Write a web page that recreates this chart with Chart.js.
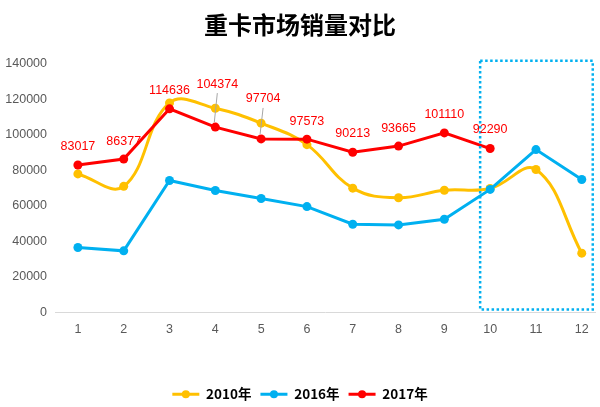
<!DOCTYPE html>
<html>
<head>
<meta charset="utf-8">
<script src="https://cdn.jsdelivr.net/npm/chart.js@4/dist/chart.umd.min.js"></script>
<style>
  html, body { margin: 0; padding: 0; background: #fff; }
  #wrap { width: 600px; height: 407px; }
</style>
</head>
<body>
<div id="wrap"><canvas id="c" width="600" height="407"></canvas></div>
<script>
// data
var months = [1, 2, 3, 4, 5, 6, 7, 8, 9, 10, 11, 12];
var sales2010 = [78000, 71000, 118000, 115000, 106600, 94500, 70000, 64600, 68800, 69800, 80500, 33400];
var sales2016 = [36600, 34700, 74300, 68700, 64200, 59600, 49700, 49300, 52500, 69300, 91700, 74900];
var sales2017 = [83017, 86377, 114636, 104374, 97704, 97573, 90213, 93665, 101110, 92290];
var yTicks = [0, 20000, 40000, 60000, 80000, 100000, 120000, 140000];

var YEL = '#FFC000', BLU = '#00B0F0', RED = '#FF0000', GREY = '#595959';
// how far above each red point its label sits (px); 4 and 5 have leader lines
var labelLift = [18, 18, 18, 43, 40, 18, 19, 18, 18, 19];

function pts(arr) { return arr.map(function(v, i) { return { x: months[i], y: v }; }); }

function ds(label, arr, color, order, tension) {
  return { label: label, data: pts(arr), borderColor: color, backgroundColor: color, pointBackgroundColor: color,
    pointBorderWidth: 0, borderWidth: 3, pointRadius: 4.5, pointHoverRadius: 4.5, tension: tension, order: order };
}

var extras = {
  id: 'extras',
  afterDatasetsDraw: function(chart) {
    var ctx = chart.ctx, x = chart.scales.x, a = chart.chartArea;
    ctx.save();
    // dotted box round the last months
    ctx.strokeStyle = BLU; ctx.lineWidth = 2.5; ctx.setLineDash([2.5, 2.5]);
    var l = x.getPixelForValue(10) - 10, r = x.getPixelForValue(12) + 11;
    ctx.strokeRect(l, a.top - 3, r - l, a.bottom - a.top);
    ctx.setLineDash([]);
    // red value labels
    var meta = chart.getDatasetMeta(2);
    ctx.font = '12.5px "Liberation Sans", Arial, sans-serif';
    ctx.fillStyle = RED; ctx.textAlign = 'center'; ctx.textBaseline = 'middle';
    for (var i = 0; i < sales2017.length; i++) {
      var p = meta.data[i], lift = labelLift[i], lx = p.x + (lift > 30 ? 2 : 0);
      if (lift > 30) {
        ctx.strokeStyle = '#a6a6a6'; ctx.lineWidth = 1;
        ctx.beginPath(); ctx.moveTo(lx, p.y - lift + 9); ctx.lineTo(p.x - 1, p.y - 5); ctx.stroke();
      }
      ctx.fillText(String(sales2017[i]), lx, p.y - lift);
    }
    ctx.restore();
  },
  afterDraw: function(chart) {
    // dot in the middle of each legend line
    var lg = chart.legend, ctx = chart.ctx;
    if (!lg || !lg.legendHitBoxes) return;
    ctx.save();
    lg.legendHitBoxes.forEach(function(h, i) {
      ctx.fillStyle = chart.data.datasets[i].borderColor;
      ctx.beginPath(); ctx.arc(h.left + 13.5, h.top + 13.5 / 2, 4, 0, Math.PI * 2); ctx.fill();
    });
    ctx.restore();
  }
};

new Chart(document.getElementById('c'), {
  type: 'line',
  data: { datasets: [ds('2010年', sales2010, YEL, 3, 0.4), ds('2016年', sales2016, BLU, 2, 0), ds('2017年', sales2017, RED, 1, 0)] },
  options: {
    responsive: false, animation: false,
    layout: { padding: { left: 0, right: 0, top: 0, bottom: -4 } },
    plugins: {
      title: { display: true, text: '重卡市场销量对比', color: '#000', font: { family: '"Noto Sans CJK SC", sans-serif', size: 24, weight: 'bold' }, padding: { top: 10, bottom: 25 } },
      legend: { position: 'bottom', labels: { boxWidth: 27, boxHeight: 3, padding: 9, color: '#000', font: { family: '"Noto Sans CJK SC", sans-serif', size: 13.5, weight: 'bold' },
        generateLabels: function(c) { return c.data.datasets.map(function(d, i) { return { text: d.label, fillStyle: d.borderColor, strokeStyle: d.borderColor, lineWidth: 0, datasetIndex: i, hidden: false }; }); } } },
      tooltip: { enabled: false }
    },
    scales: {
      x: { type: 'linear', min: 0.5, max: 12.3, grid: { display: false, drawTicks: false }, border: { color: '#d9d9d9', width: 1 },
        afterBuildTicks: function(s) { s.ticks = months.map(function(v) { return { value: v }; }); },
        afterFit: function(s) { s.height += 31; },
        ticks: { color: GREY, padding: 10, font: { family: '"Liberation Sans", Arial, sans-serif', size: 12.5 }, callback: function(v) { return String(v); } } },
      y: { min: 0, max: 140000, grid: { display: false, drawTicks: false }, border: { display: false },
        afterBuildTicks: function(s) { s.ticks = yTicks.map(function(v) { return { value: v }; }); },
        afterFit: function(s) { s.width = 55; },
        ticks: { color: GREY, padding: 8, font: { family: '"Liberation Sans", Arial, sans-serif', size: 12.5 }, callback: function(v) { return String(v); } } }
    }
  },
  plugins: [extras]
});
</script>
</body>
</html>
